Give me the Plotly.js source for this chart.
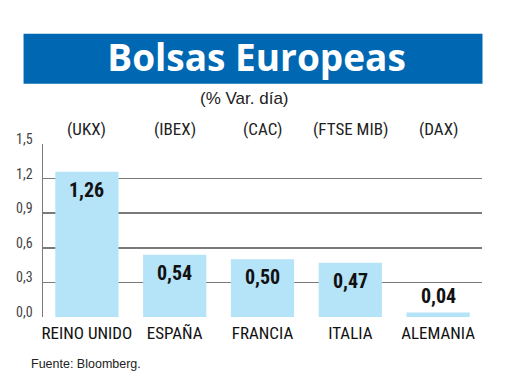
<!DOCTYPE html>
<html>
<head>
<meta charset="utf-8">
<script src="https://cdn.plot.ly/plotly-3.0.1.min.js"></script>
<style>
html,body{margin:0;padding:0;background:#fff;}
#chart{width:520px;height:390px;}
</style>
</head>
<body>
<div id="chart"></div>
<script>
const countries = ['REINO UNIDO', 'ESPAÑA', 'FRANCIA', 'ITALIA', 'ALEMANIA'];
const indices = ['(UKX)', '(IBEX)', '(CAC)', '(FTSE MIB)', '(DAX)'];
const values = [1.26, 0.54, 0.50, 0.47, 0.04];
const valueLabels = ['1,26', '0,54', '0,50', '0,47', '0,04'];
const tickVals = [0, 0.3, 0.6, 0.9, 1.2, 1.5];
const tickText = ['0,0', '0,3', '0,6', '0,9', '1,2', '1,5'];

const NARROW = '"Roboto Condensed", "Liberation Sans Narrow", "Arial Narrow", "DejaVu Sans Condensed", sans-serif';

const trace = {
  type: 'bar',
  x: countries,
  y: values,
  marker: {color: '#b5e3f8', line: {width: 0}},
  hoverinfo: 'skip'
};

const annotations = [];
countries.forEach((c, i) => {
  const big = values[i] >= 0.2;
  annotations.push({
    x: c, y: values[i], xref: 'x', yref: 'y',
    text: '<b>' + valueLabels[i] + '</b>', showarrow: false,
    yanchor: big ? 'top' : 'bottom', yshift: big ? -4 : 2,
    font: {family: NARROW, size: 20, color: '#111'}
  });
  annotations.push({
    x: c, y: 1.089, xref: 'x', yref: 'paper',
    text: indices[i], showarrow: false, yanchor: 'middle',
    font: {family: NARROW, size: 17, color: '#222'}
  });
});
annotations.push({
  x: 0.458, y: 1.262, xref: 'paper', yref: 'paper',
  text: '(% Var. día)', showarrow: false, yanchor: 'middle',
  font: {family: '"Liberation Sans", Arial, sans-serif', size: 17, color: '#222'}
});
annotations.push({
  x: -0.033, y: -0.271, xref: 'paper', yref: 'paper',
  text: 'Fuente: Bloomberg.', showarrow: false, xanchor: 'left', yanchor: 'middle',
  font: {family: '"Liberation Sans", Arial, sans-serif', size: 12.5, color: '#222'}
});

const layout = {
  width: 520, height: 390,
  margin: {l: 42.5, r: 37.5, t: 143.5, b: 73, pad: 0},
  paper_bgcolor: '#fff', plot_bgcolor: '#fff',
  bargap: 0.28,
  showlegend: false,
  title: {
    text: 'Bolsas Europeas',
    x: 0.4865, xanchor: 'center', xref: 'paper',
    y: 1 - 58 / 390, yanchor: 'middle', yref: 'container',
    font: {family: '"Open Sans", sans-serif', size: 37, color: '#fff', weight: 700}
  },
  xaxis: {
    type: 'category',
    showgrid: false, zeroline: false, showline: false,
    ticks: '', ticklabelstandoff: 4,
    tickfont: {family: NARROW, size: 17, color: '#111'},
    fixedrange: true
  },
  yaxis: {
    range: [0, 1.5],
    tickvals: tickVals, ticktext: tickText,
    showgrid: true, gridcolor: '#7a7a7a', gridwidth: 1.5,
    zeroline: false,
    showline: true, linecolor: '#7a7a7a', linewidth: 1.5,
    ticks: '', ticklabelstandoff: 6, ticklabelshift: -5,
    tickfont: {family: NARROW, size: 14, color: '#444'},
    fixedrange: true
  },
  shapes: [{
    type: 'rect', xref: 'paper', yref: 'paper',
    x0: (23 - 42.5) / 440, x1: (483 - 42.5) / 440,
    y0: (317 - 83) / 173.5, y1: (317 - 33) / 173.5,
    fillcolor: '#0068b3', line: {width: 0}, layer: 'below'
  }],
  annotations: annotations
};

Plotly.newPlot('chart', [trace], layout, {displayModeBar: false, staticPlot: true});
</script>
</body>
</html>
